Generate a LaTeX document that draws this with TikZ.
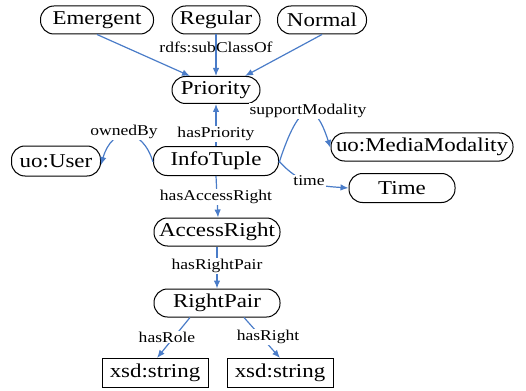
\documentclass[tikz,border=0pt]{standalone}
\usepackage{fontspec}
\setmainfont[FakeStretch=1.17]{Liberation Serif}
\usetikzlibrary{arrows.meta}
\definecolor{eblue}{HTML}{4A7CC8}
\begin{document}
\begin{tikzpicture}[x=1pt,y=-1pt,
  cls/.style={draw=black, line width=1pt, rounded corners=13.5pt, minimum height=28pt, inner sep=0pt, font=\fontsize{19.6}{20}\selectfont},
  lit/.style={draw=black, line width=1pt, minimum height=29pt, minimum width=106pt, inner sep=0pt, font=\fontsize{19.6}{20}\selectfont},
  edge/.style={draw=eblue, line width=1.2pt, -{Latex[length=8pt,width=6.5pt]}},
  lbl/.style={font=\fontsize{15}{16}\selectfont, inner sep=1pt, fill=white},
  lbln/.style={font=\fontsize{15}{16}\selectfont, inner sep=1pt}]
\useasboundingbox (0,0) rectangle (526,390);
\node[cls, minimum width=113pt] (em) at (97,20) {Emergent};
\node[cls, minimum width=88pt] (reg) at (216,20) {Regular};
\node[cls, minimum width=89pt] (nor) at (322,20) {Normal};
\node[cls, minimum width=88pt, minimum height=27pt] (pri) at (216,90) {Priority};
\node[cls, minimum width=125pt, minimum height=29pt] (info) at (216,161) {InfoTuple};
\node[cls, minimum width=89pt, minimum height=30pt] (user) at (56,161) {uo:User};
\node[cls, minimum width=182pt] (mm) at (422,147) {uo:MediaModality};
\node[cls, minimum width=106pt, minimum height=29pt] (time) at (402,188) {Time};
\node[cls, minimum width=126pt] (ar) at (217,232) {AccessRight};
\node[cls, minimum width=126pt] (rp) at (217,303) {RightPair};
\node[lit] (s1) at (155,373) {xsd:string};
\node[lit] (s2) at (280,373) {xsd:string};
% subclass edges
\draw[edge] (em.south) -- ([xshift=-26pt]pri.north);
\draw[edge] (reg.south) -- (pri.north);
\draw[edge] (nor.south) -- ([xshift=29pt]pri.north);
\node[lbln] (sc) at (216,47) {rdfs:subClassOf};
% hasPriority
\draw[edge] (info.north) -- (pri.south);
\node[lbl] (hp) at (216,134) {hasPriority};
% hasAccessRight
\draw[edge] (info.south) -- ([xshift=1pt]ar.north);
\node[lbl] (har) at (216,197) {hasAccessRight};
% hasRightPair
\draw[edge] (ar.south) -- (rp.south |- rp.north);
\node[lbl] (hrp) at (217,266) {hasRightPair};
% hasRole / hasRight
\draw[edge] ([xshift=-27pt]rp.south) -- ([xshift=2pt]s1.north);
\node[lbl] (hro) at (167,337) {hasRole};
\draw[edge] ([xshift=27pt]rp.south) -- (s2.north);
\node[lbl] (hri) at (268,337) {hasRight};
% ownedBy
\draw[edge] ([yshift=-1pt]info.west) .. controls (142,126) and (112,126) .. ([yshift=-4pt]user.east);
\node[lbl] (ob) at (124,132) {ownedBy};
% supportModality
\draw[edge] ([yshift=-2pt]info.east) .. controls (300,98) and (315,100) .. ([yshift=-1pt]mm.west);
\node[lbl] (sm) at (308,111) {supportModality};
% time
\draw[edge] (info.east) .. controls (300,185) and (320,186) .. (time.west);
\node[lbl] (tm) at (309,181) {time};
\end{tikzpicture}
\end{document}
